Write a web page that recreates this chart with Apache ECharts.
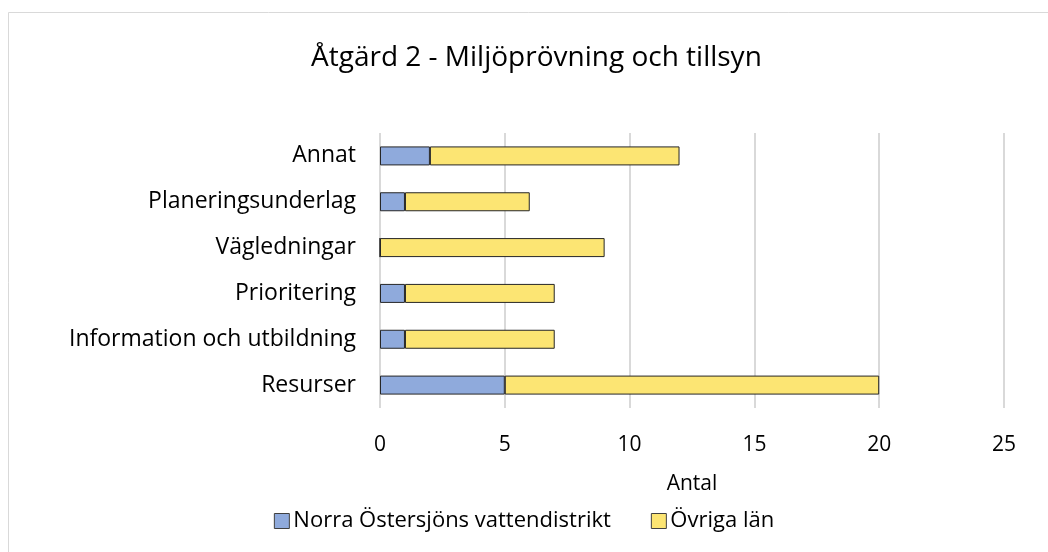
<!DOCTYPE html>
<html><head><meta charset="utf-8">
<script src="https://cdn.jsdelivr.net/npm/echarts@6/dist/echarts.min.js"></script>
<style>html,body{margin:0;padding:0;background:#fff}#c{width:1048px;height:552px}</style>
</head><body><div id="c"></div>
<script>
const categories = ['Resurser','Information och utbildning','Prioritering','Vägledningar','Planeringsunderlag','Annat'];
const norra = [5, 1, 1, 0, 1, 2];
const ovriga = [15, 6, 6, 9, 5, 10];
const seriesNames = ['Norra Östersjöns vattendistrikt','Övriga län'];
const xTicks = {min:0, max:25, interval:5};
const FONT = 'Open Sans';
const chart = echarts.init(document.getElementById('c'), null, {renderer:'canvas'});
chart.setOption({
  animation:false,
  backgroundColor:'#fff',
  graphic:[{type:'rect', shape:{x:8.5,y:12.5,width:1100,height:700}, style:{fill:'none',stroke:'#d9d9d9',lineWidth:1}, silent:true}],
  title:{text:'Åtgärd 2 - Miljöprövning och tillsyn', left:306, top:39, textStyle:{fontFamily:FONT,fontSize:28,fontWeight:'normal',color:'#000'}},
  legend:{bottom:15, left:'center', itemWidth:15, itemHeight:15, itemGap:40, icon:'rect',
    textStyle:{fontFamily:FONT,fontSize:22,color:'#000',padding:[0,0,0,-1]},
    data:seriesNames.map(n=>({name:n,itemStyle:{borderColor:'#404040',borderWidth:1}}))},
  grid:{left:380, right:44, top:133, bottom:144, containLabel:false},
  xAxis:{type:'value', min:xTicks.min, max:xTicks.max, interval:xTicks.interval,
    name:'Antal', nameLocation:'middle', nameGap:66, nameTextStyle:{fontFamily:FONT,fontSize:21,color:'#000'},
    axisLabel:{fontFamily:FONT,fontSize:21,color:'#000',margin:27},
    axisLine:{show:false}, axisTick:{show:false},
    splitLine:{show:true,lineStyle:{color:'#d9d9d9',width:2}}},
  yAxis:{type:'category', data:categories,
    axisLabel:{fontFamily:FONT,fontSize:23,color:'#000',margin:24},
    axisLine:{show:false}, axisTick:{show:false}},
  series:[
    {name:seriesNames[0], type:'bar', stack:'s', data:norra, barWidth:19,
      itemStyle:{color:'#8faadc',borderColor:'#262626',borderWidth:1}},
    {name:seriesNames[1], type:'bar', stack:'s', data:ovriga, barWidth:19,
      itemStyle:{color:'#fce573',borderColor:'#262626',borderWidth:1}}
  ]
});
</script></body></html>
